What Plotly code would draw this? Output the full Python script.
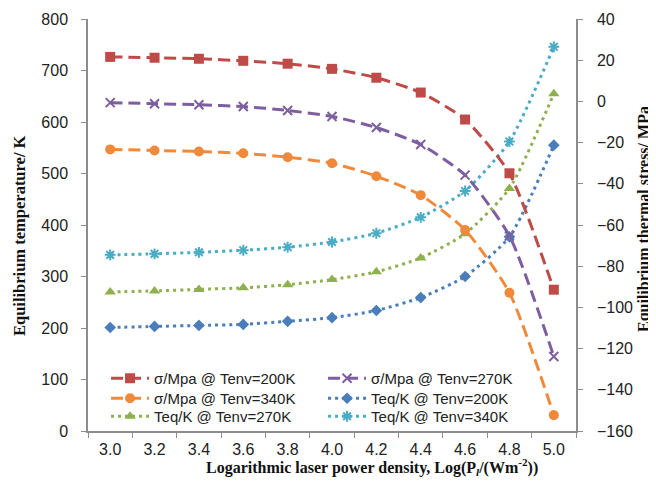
import plotly.graph_objects as go

x_labels = ["3.0", "3.2", "3.4", "3.6", "3.8", "4.0", "4.2", "4.4", "4.6", "4.8", "5.0"]

sigma_200 = [21.6, 21.2, 20.7, 19.7, 18.3, 15.8, 11.5, 4.3, -8.8, -34.9, -91.4]
sigma_270 = [-0.6, -1.1, -1.6, -2.5, -4.4, -7.3, -12.7, -20.9, -35.8, -65.3, -123.8]
sigma_340 = [-23.3, -23.8, -24.3, -25.2, -27.1, -30.0, -36.3, -45.5, -62.4, -92.9, -152.3]

teq_200 = [201, 203, 205, 207, 213, 220, 234, 259, 300, 377, 555]
teq_270 = [270, 272, 275, 278, 284, 294, 309, 336, 383, 471, 655]
teq_340 = [342, 344, 347, 351, 357, 367, 384, 415, 466, 562, 746]

RED = "#BE4B48"
PURPLE = "#7D5FA0"
ORANGE = "#F08A3A"
BLUE = "#4A7EBB"
GREEN = "#8FB04E"
CYAN = "#4AACC5"

fig = go.Figure()

def add(name, y, color, symbol, dash, axis, legend, msize=10, mline=0):
    fig.add_trace(go.Scatter(
        x=x_labels, y=y, name=name, yaxis=axis, legend=legend,
        mode="lines+markers",
        line=dict(color=color, width=3, dash=dash, shape="spline", smoothing=0.6),
        marker=dict(symbol=symbol, size=msize, color=color,
                    line=dict(color=color, width=mline)),
    ))

DASH = "12px,6px"
DOT = "3px,4px"
add("σ/Mpa @ Tenv=200K", sigma_200, RED, "square", DASH, "y2", "legend", 10)
add("σ/Mpa @ Tenv=270K", sigma_270, PURPLE, "x-thin-open", DASH, "y2", "legend", 9, 2)
add("σ/Mpa @ Tenv=340K", sigma_340, ORANGE, "circle", DASH, "y2", "legend2", 10)
add("Teq/K @ Tenv=200K", teq_200, BLUE, "diamond", DOT, "y", "legend2", 9)
add("Teq/K @ Tenv=270K", teq_270, GREEN, "triangle-up", DOT, "y", "legend3", 10)
add("Teq/K @ Tenv=340K", teq_340, CYAN, "asterisk-open", DOT, "y", "legend3", 9, 2)

axis_color = "#8C8C8C"
tick_font = dict(family="Liberation Sans, Arial", size=16, color="#222222")
title_font = dict(family="Liberation Serif, Times New Roman", size=16, color="#111111")

# page body adds an 8px offset; figure sized to fit the window
W, H = 648, 484
L, R, T, B = 80, 80, 11, 61
PL, PB, PW, PH = 88, 431, 488, 412   # plot area in window pixels


def sx(p):
    return (p - PL) / PW


def sy(p):
    return (PB - p) / PH


def leg(ytop):
    return dict(
        orientation="h", x=0.037, y=sy(ytop), xanchor="left", yanchor="top",
        entrywidth=164, entrywidthmode="pixels",
        font=dict(family="Liberation Sans, Arial", size=15, color="#222222"),
        bgcolor="rgba(0,0,0,0)", itemwidth=38,
    )


fig.update_layout(
    width=W, height=H,
    margin=dict(l=L, r=R, t=T, b=B),
    paper_bgcolor="white", plot_bgcolor="white",
    showlegend=True,
    legend=leg(362), legend2=leg(382), legend3=leg(400),
    xaxis=dict(
        type="category", range=[-0.5, 10.5], automargin=False,
        showline=True, linecolor=axis_color, linewidth=1.5,
        ticks="outside", tickcolor=axis_color, ticklen=5,
        tickson="boundaries", showgrid=False, zeroline=False,
        tickfont=tick_font, ticklabelstandoff=3,
    ),
    yaxis=dict(
        range=[0, 800], dtick=100, automargin=False,
        showline=True, linecolor=axis_color, linewidth=1.5,
        ticks="outside", tickcolor=axis_color, ticklen=5,
        showgrid=False, zeroline=False, tickfont=tick_font, ticklabelstandoff=10,
    ),
    yaxis2=dict(
        range=[-160, 40], dtick=20, overlaying="y", side="right", automargin=False,
        showline=True, linecolor=axis_color, linewidth=1.5,
        ticks="outside", tickcolor=axis_color, ticklen=5,
        showgrid=False, zeroline=False, tickfont=tick_font, ticklabelstandoff=11,
    ),
    annotations=[
        dict(text="<b>Logarithmic laser power density, Log(P<sub><i>l</i></sub>/(Wm<sup>-2</sup>))</b>",
             xref="paper", yref="paper", x=sx(372), y=sy(467),
             xanchor="center", yanchor="middle", showarrow=False, font=title_font),
        dict(text="<b>Equilibrium temperature/ K</b>",
             xref="paper", yref="paper", x=sx(19), y=sy(236), textangle=-90,
             xanchor="center", yanchor="middle", showarrow=False,
             font=dict(family="Liberation Serif, Times New Roman", size=16.5, color="#111111")),
        dict(text="<b>Equilibrium thermal stress/ MPa</b>",
             xref="paper", yref="paper", x=sx(644), y=sy(219), textangle=-90,
             xanchor="center", yanchor="middle", showarrow=False, font=title_font),
    ],
)

fig.write_html("out.html")
